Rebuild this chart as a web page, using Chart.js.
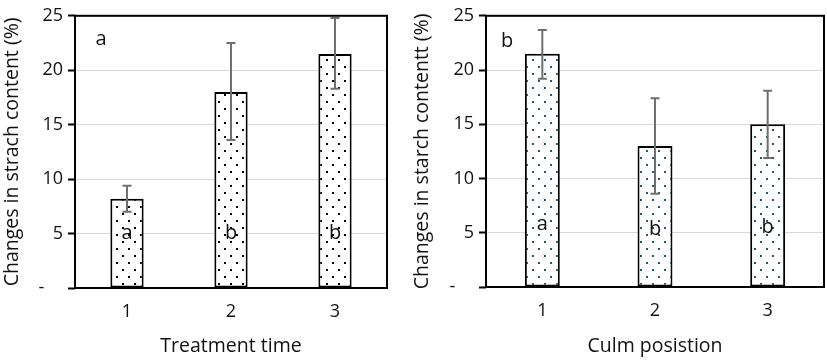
<!DOCTYPE html>
<html>
<head>
<meta charset="utf-8">
<script src="https://cdn.jsdelivr.net/npm/chart.js@4.4.1/dist/chart.umd.min.js"></script>
<style>
  html, body { margin: 0; padding: 0; background: #fff; }
  #wrap { position: relative; width: 827px; height: 360px; overflow: hidden; }
  canvas { position: absolute; top: 0; }
</style>
</head>
<body>
<div id="wrap">
  <canvas id="c1" width="410" height="360" style="left:0px"></canvas>
  <canvas id="c2" width="417" height="360" style="left:410px"></canvas>
</div>
<script>
// ---- data ----
const categories = ['1', '2', '3'];
const timeValues = [8.2, 18.0, 21.5];
const timeErrLow = [7.0, 13.6, 18.3];
const timeErrHigh = [9.4, 22.5, 24.8];
const timeLetters = ['a', 'b', 'b'];
const timeLetterY = [5.0, 5.0, 5.0];

const culmValues = [21.5, 13.0, 15.0];
const culmErrLow = [19.2, 8.6, 11.9];
const culmErrHigh = [23.7, 17.4, 18.1];
const culmLetters = ['a', 'b', 'b'];
const culmLetterY = [5.8, 5.3, 5.5];

const yTicks = [0, 5, 10, 15, 20, 25];
const panelLabels = ['a', 'b'];
const xTitles = ['Treatment time', 'Culm posistion'];
const yTitles = ['Changes in strach content (%)', 'Changes in starch contentt (%)'];

const FONT = "'Open Sans', 'Liberation Sans', sans-serif";

function makePattern(dotColor) {
  const t = document.createElement('canvas');
  t.width = 12; t.height = 14;
  const g = t.getContext('2d');
  g.fillStyle = '#fff';
  g.fillRect(0, 0, 12, 14);
  g.fillStyle = dotColor;
  g.fillRect(2, 3, 2, 2);
  g.fillRect(8, 10, 2, 2);
  return g.createPattern(t, 'repeat');
}

function buildChart(id, cfg) {
  const canvas = document.getElementById(id);
  const ctx = canvas.getContext('2d');
  const overlay = {
    id: 'overlay',
    afterDatasetsDraw(chart) {
      const c = chart.ctx;
      const xs = chart.scales.x, ys = chart.scales.y;
      const a = chart.chartArea;
      // error bars
      c.save();
      c.strokeStyle = '#6f6f6f';
      c.lineWidth = 2;
      cfg.values.forEach((v, i) => {
        const x = xs.getPixelForValue(i);
        const yl = ys.getPixelForValue(cfg.low[i]);
        const yh = ys.getPixelForValue(cfg.high[i]);
        c.beginPath();
        c.moveTo(x, yl); c.lineTo(x, yh);
        c.moveTo(x - 4.5, yl); c.lineTo(x + 4.5, yl);
        c.moveTo(x - 4.5, yh); c.lineTo(x + 4.5, yh);
        c.stroke();
      });
      c.restore();
      // letters in bars
      c.save();
      c.fillStyle = '#111';
      c.font = '20px ' + FONT;
      c.textAlign = 'center';
      c.textBaseline = 'middle';
      cfg.letters.forEach((l, i) => {
        c.fillText(l, xs.getPixelForValue(i), ys.getPixelForValue(cfg.letterY[i]));
      });
      // panel label
      c.fillText(cfg.panel, a.left + cfg.panelDx, a.top + cfg.panelDy);
      c.restore();
      // frame
      c.save();
      c.strokeStyle = '#000';
      c.lineWidth = 2;
      c.strokeRect(a.left, a.top, a.right - a.left, a.bottom - a.top);
      c.restore();
    }
  };
  return new Chart(ctx, {
    type: 'bar',
    data: {
      labels: categories,
      datasets: [{
        data: cfg.values,
        backgroundColor: makePattern(cfg.dot),
        borderColor: '#000',
        borderWidth: 2,
        borderSkipped: false,
        barPercentage: cfg.barPct,
        categoryPercentage: 1.0
      }]
    },
    options: {
      responsive: false,
      animation: false,
      devicePixelRatio: 1,
      layout: { padding: { left: 0, top: cfg.padTop, right: cfg.padRight, bottom: 0 } },
      plugins: { legend: { display: false }, tooltip: { enabled: false } },
      scales: {
        x: {
          grid: { display: false, drawTicks: false },
          border: { display: false },
          ticks: { color: '#111', font: { family: FONT, size: 18 }, padding: 13 },
          title: { display: true, text: cfg.xTitle, color: '#111', font: { family: FONT, size: 19.5 }, padding: { top: 0, bottom: 2 } },
          afterFit(s) { s.height = cfg.xHeight; }
        },
        y: {
          min: 0, max: 25,
          afterBuildTicks(s) { s.ticks = yTicks.map(v => ({ value: v })); },
          grid: { color: '#d9d9d9', lineWidth: 1, drawTicks: true, tickLength: 7, tickColor: '#000', tickWidth: 2 },
          border: { display: false },
          ticks: {
            color: '#111', font: { family: FONT, size: 18 }, padding: 5,
            callback: v => v === 0 ? '-    ' : String(v)
          },
          title: { display: true, text: cfg.yTitle, color: '#111', font: { family: FONT, size: 19.5 }, padding: { top: 1, bottom: 0 } },
          afterFit(s) { s.width = cfg.yWidth; }
        }
      }
    },
    plugins: [overlay]
  });
}

buildChart('c1', {
  values: timeValues, low: timeErrLow, high: timeErrHigh,
  letters: timeLetters, letterY: timeLetterY, panel: panelLabels[0],
  xTitle: xTitles[0], yTitle: yTitles[0], dot: '#000',
  barPct: 0.32, padTop: 14, padRight: 23, xHeight: 72, yWidth: 75,
  panelDx: 26, panelDy: 23
});
buildChart('c2', {
  values: culmValues, low: culmErrLow, high: culmErrHigh,
  letters: culmLetters, letterY: culmLetterY, panel: panelLabels[1],
  xTitle: xTitles[1], yTitle: yTitles[1], dot: '#1d5f6e',
  barPct: 0.31, padTop: 10, padRight: 3, xHeight: 73, yWidth: 76,
  panelDx: 21, panelDy: 25
});
</script>
</body>
</html>
